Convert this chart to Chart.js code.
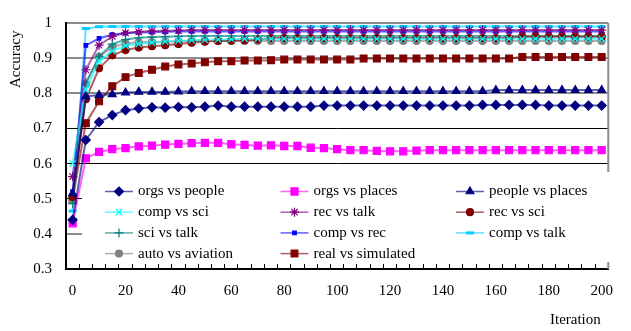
<!DOCTYPE html>
<html>
<head>
<meta charset="utf-8">
<script src="https://cdn.jsdelivr.net/npm/chart.js@4.4.1/dist/chart.umd.min.js"></script>
<style>
  html, body { margin: 0; padding: 0; background: #fff; }
  #wrap { width: 631px; height: 331px; }
</style>
</head>
<body>
<div id="wrap"><canvas id="accuracyChart" width="631" height="331"></canvas></div>
<script>
// categorias del eje X (iteraciones, cada 5)
const iterations = [0, 5, 10, 15, 20, 25, 30, 35, 40, 45, 50, 55, 60, 65, 70, 75, 80, 85, 90, 95,
  100, 105, 110, 115, 120, 125, 130, 135, 140, 145, 150, 155, 160, 165, 170, 175, 180, 185, 190, 195, 200];
const xLabelStep = 20;

// series
const orgsVsPeople = [0.440, 0.667, 0.718, 0.738, 0.752, 0.757, 0.760, 0.759, 0.761, 0.760,
  0.762, 0.765, 0.762, 0.762, 0.762, 0.762, 0.762, 0.762, 0.762, 0.765,
  0.765, 0.765, 0.765, 0.765, 0.765, 0.765, 0.765, 0.765, 0.765, 0.765,
  0.765, 0.767, 0.767, 0.767, 0.767, 0.767, 0.765, 0.765, 0.765, 0.765, 0.765];
const orgsVsPlaces = [0.430, 0.615, 0.633, 0.641, 0.644, 0.649, 0.651, 0.654, 0.656, 0.658,
  0.659, 0.659, 0.655, 0.653, 0.651, 0.652, 0.650, 0.650, 0.645, 0.644,
  0.641, 0.638, 0.638, 0.636, 0.635, 0.635, 0.637, 0.638, 0.638, 0.638,
  0.638, 0.638, 0.638, 0.638, 0.638, 0.638, 0.638, 0.638, 0.638, 0.638, 0.638];
const peopleVsPlaces = [0.515, 0.791, 0.795, 0.797, 0.802, 0.804, 0.804, 0.804, 0.805, 0.806,
  0.806, 0.806, 0.806, 0.806, 0.806, 0.806, 0.806, 0.806, 0.806, 0.806,
  0.806, 0.806, 0.806, 0.806, 0.806, 0.806, 0.806, 0.806, 0.806, 0.806,
  0.806, 0.806, 0.809, 0.809, 0.809, 0.809, 0.809, 0.809, 0.809, 0.809, 0.809];
const compVsSci = [0.600, 0.811, 0.892, 0.920, 0.935, 0.940, 0.944, 0.947, 0.949, 0.951,
  0.952, 0.953, 0.954, 0.955, 0.955, 0.955, 0.955, 0.955, 0.955, 0.955,
  0.955, 0.955, 0.955, 0.955, 0.955, 0.955, 0.955, 0.955, 0.955, 0.955,
  0.955, 0.955, 0.955, 0.955, 0.955, 0.955, 0.955, 0.955, 0.955, 0.955, 0.955];
const recVsTalk = [0.563, 0.867, 0.937, 0.962, 0.972, 0.975, 0.977, 0.978, 0.979, 0.980,
  0.980, 0.980, 0.980, 0.980, 0.980, 0.980, 0.980, 0.980, 0.980, 0.980,
  0.980, 0.980, 0.980, 0.980, 0.980, 0.980, 0.980, 0.980, 0.980, 0.980,
  0.980, 0.980, 0.980, 0.980, 0.980, 0.980, 0.980, 0.980, 0.980, 0.980, 0.980];
const recVsSci = [0.505, 0.783, 0.871, 0.908, 0.923, 0.930, 0.934, 0.937, 0.940, 0.944,
  0.947, 0.949, 0.950, 0.951, 0.953, 0.957, 0.957, 0.957, 0.957, 0.957,
  0.957, 0.957, 0.957, 0.957, 0.957, 0.957, 0.957, 0.957, 0.957, 0.957,
  0.957, 0.957, 0.957, 0.957, 0.961, 0.961, 0.961, 0.961, 0.961, 0.961, 0.961];
const sciVsTalk = [0.486, 0.830, 0.905, 0.940, 0.953, 0.958, 0.960, 0.961, 0.962, 0.963,
  0.963, 0.963, 0.963, 0.963, 0.963, 0.963, 0.963, 0.963, 0.963, 0.963,
  0.963, 0.963, 0.963, 0.963, 0.963, 0.963, 0.963, 0.963, 0.963, 0.963,
  0.963, 0.963, 0.963, 0.963, 0.963, 0.963, 0.963, 0.963, 0.963, 0.963, 0.963];
const compVsRec = [0.520, 0.936, 0.956, 0.967, 0.971, 0.973, 0.974, 0.975, 0.976, 0.976,
  0.976, 0.976, 0.976, 0.976, 0.976, 0.976, 0.976, 0.976, 0.976, 0.976,
  0.976, 0.976, 0.976, 0.976, 0.976, 0.976, 0.976, 0.976, 0.976, 0.976,
  0.976, 0.976, 0.976, 0.976, 0.976, 0.976, 0.976, 0.976, 0.976, 0.976, 0.976];
const compVsTalk = [0.465, 0.984, 0.989, 0.990, 0.990, 0.990, 0.990, 0.990, 0.990, 0.990,
  0.990, 0.990, 0.990, 0.990, 0.990, 0.990, 0.990, 0.990, 0.990, 0.990,
  0.990, 0.990, 0.990, 0.990, 0.990, 0.990, 0.990, 0.990, 0.990, 0.990,
  0.990, 0.990, 0.990, 0.990, 0.990, 0.990, 0.990, 0.990, 0.990, 0.990, 0.990];
const autoVsAviation = [0.495, 0.826, 0.904, 0.931, 0.942, 0.945, 0.946, 0.947, 0.948, 0.949,
  0.949, 0.949, 0.949, 0.949, 0.949, 0.949, 0.949, 0.949, 0.949, 0.949,
  0.949, 0.949, 0.949, 0.949, 0.949, 0.949, 0.949, 0.949, 0.949, 0.949,
  0.949, 0.949, 0.949, 0.949, 0.949, 0.949, 0.949, 0.949, 0.949, 0.949, 0.949];
const realVsSimulated = [0.500, 0.715, 0.777, 0.820, 0.846, 0.858, 0.867, 0.876, 0.882, 0.885,
  0.888, 0.891, 0.891, 0.893, 0.893, 0.894, 0.896, 0.896, 0.896, 0.896,
  0.896, 0.896, 0.899, 0.899, 0.899, 0.899, 0.899, 0.899, 0.899, 0.899,
  0.899, 0.899, 0.899, 0.899, 0.903, 0.903, 0.903, 0.903, 0.903, 0.903, 0.903];

const seriesNames = ['orgs vs people', 'orgs vs places', 'people vs places',
  'comp vs sci', 'rec vs talk', 'rec vs sci',
  'sci vs talk', 'comp vs rec', 'comp vs talk',
  'auto vs aviation', 'real vs simulated'];
const seriesValues = [orgsVsPeople, orgsVsPlaces, peopleVsPlaces, compVsSci, recVsTalk, recVsSci,
  sciVsTalk, compVsRec, compVsTalk, autoVsAviation, realVsSimulated];

// estilos (colores estilo Excel)
const seriesColors = ['#000080', '#FF00FF', '#000080', '#00FFFF', '#800080', '#800000',
  '#008080', '#0000FF', '#00CCFF', '#808080', '#800000'];
const seriesMarkers = [
  { style: 'rectRot', r: 4.5 }, { style: 'rect', r: 5 }, { style: 'triangle', r: 4.5 },
  { style: 'crossRot', r: 4.5 }, { style: 'star', r: 4.5 }, { style: 'circle', r: 3.5 },
  { style: 'cross', r: 4.5 }, { style: 'rect', r: 2.5 }, { style: 'line', r: 4 },
  { style: 'circle', r: 3.5 }, { style: 'rect', r: 4.8 }
];

const FONT = "'Liberation Serif', 'Times New Roman', serif";

// leyenda en rejilla de 3 columnas, dentro del area del grafico
const gridLegend = {
  id: 'gridLegend',
  beforeDatasetsDraw(chart, args, o) {
    const { ctx, chartArea: ca } = chart;
    ctx.save();
    // borde derecho gris del area
    ctx.strokeStyle = '#8c8c8c';
    ctx.lineWidth = 2;
    ctx.beginPath();
    ctx.moveTo(ca.right, ca.top);
    ctx.lineTo(ca.right, ca.bottom);
    ctx.stroke();

    ctx.fillStyle = '#fff';
    ctx.fillRect(o.left, o.top, ca.right + 2 - o.left, o.bottom - o.top);

    ctx.font = `15px ${FONT}`;
    ctx.textBaseline = 'middle';
    chart.data.datasets.forEach((ds, i) => {
      const x = o.x0 + (i % 3) * o.colWidth;
      const y = o.y0 + Math.floor(i / 3) * o.rowHeight;
      ctx.strokeStyle = ds.borderColor;
      ctx.lineWidth = 1.5;
      ctx.beginPath();
      ctx.moveTo(x, y);
      ctx.lineTo(x + o.lineLen, y);
      ctx.stroke();
      ctx.fillStyle = ds.pointBackgroundColor;
      ctx.strokeStyle = ds.pointBorderColor;
      ctx.lineWidth = ds.pointBorderWidth;
      Chart.helpers.drawPoint(ctx, {
        pointStyle: ds.pointStyle, radius: ds.pointRadius,
        borderWidth: ds.pointBorderWidth, rotation: 0
      }, x + o.lineLen / 2, y);
      ctx.fillStyle = '#000';
      ctx.fillText(ds.label, x + o.lineLen + o.gap, y);
    });
    ctx.restore();
  }
};

const datasets = seriesNames.map((name, i) => ({
  label: name,
  data: seriesValues[i],
  borderColor: seriesColors[i] + 'a0',
  borderWidth: 2,
  pointStyle: seriesMarkers[i].style,
  pointRadius: seriesMarkers[i].r,
  pointBackgroundColor: seriesColors[i],
  pointBorderColor: seriesColors[i],
  pointBorderWidth: seriesMarkers[i].style === 'line' ? 3 : 1.2,
  tension: 0,
  fill: false
}));

const isSoftGrid = v => [10, 9, 8, 4].includes(Math.round(v * 10));

new Chart(document.getElementById('accuracyChart'), {
  type: 'line',
  data: { labels: iterations, datasets },
  plugins: [gridLegend],
  options: {
    responsive: false,
    devicePixelRatio: 1,
    animation: false,
    layout: { padding: { top: 10, right: 6, left: 0, bottom: 0 } },
    plugins: {
      legend: { display: false },
      tooltip: { enabled: false },
      gridLegend: { left: 82, top: 172, bottom: 262, x0: 105, y0: 191.5, colWidth: 175.5, rowHeight: 20.7, lineLen: 28, gap: 5 }
    },
    scales: {
      x: {
        type: 'category',
        offset: true,
        afterFit: s => { s.height = 62; },
        grid: { drawOnChartArea: false, offset: true, tickLength: -5, color: '#000', lineWidth: 1 },
        border: { display: true, color: '#000', width: 2 },
        ticks: {
          autoSkip: false, maxRotation: 0, padding: 18, color: '#000',
          font: { family: FONT, size: 15 },
          callback: (v, idx) => iterations[idx] % xLabelStep === 0 ? String(iterations[idx]) : ''
        },
        title: {
          display: true, text: 'Iteration\u00a0\u00a0', align: 'end', color: '#000',
          font: { family: FONT, size: 15 }, padding: { top: 0, bottom: 2 }
        }
      },
      y: {
        min: 0.3,
        max: 1,
        afterFit: s => { s.width = 66; },
        grid: {
          drawTicks: false,
          color: c => isSoftGrid(c.tick.value) ? '#8c8c8c' : '#000',
          lineWidth: c => isSoftGrid(c.tick.value) ? 2 : 1
        },
        border: { display: true, color: '#000', width: 2 },
        ticks: {
          stepSize: 0.1, padding: 14, color: '#000',
          font: { family: FONT, size: 15 },
          callback: v => String(+v.toFixed(1))
        },
        title: {
          display: true, text: 'Accuracy\u00a0\u00a0', align: 'end', color: '#000',
          font: { family: FONT, size: 15 }, padding: { top: 7, bottom: 0 }
        }
      }
    }
  }
});
</script>
</body>
</html>
